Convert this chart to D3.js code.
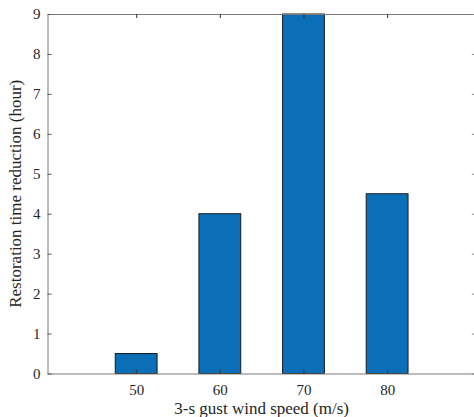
<!DOCTYPE html>
<html>
<head>
<meta charset="utf-8">
<script src="https://cdn.jsdelivr.net/npm/d3@7"></script>
<style>
  body { margin: 0; background: #fff; }
  svg { display: block; }
</style>
</head>
<body>
<svg id="chart" width="474" height="417"></svg>
<script>
const speeds = [50, 60, 70, 80];
const reductions = [0.5, 4, 9, 4.5];
const yTicks = [0, 1, 2, 3, 4, 5, 6, 7, 8, 9];

const svg = d3.select("#chart");
const plot = { left: 47.5, right: 475.8, top: 14, bottom: 373.5 };
const serif = "'Liberation Serif', 'Times New Roman', Times, serif";

const x = d3.scaleLinear().domain([39.4, 90.6]).range([plot.left, plot.right]);
const y = d3.scaleLinear().domain([0, 9]).range([plot.bottom, plot.top]);
const barW = x(55) - x(50);

// bars
svg.append("g").selectAll("rect").data(speeds).enter().append("rect")
  .attr("x", d => x(d) - barW / 2)
  .attr("y", (d, i) => y(reductions[i]))
  .attr("width", barW)
  .attr("height", (d, i) => y(0) - y(reductions[i]))
  .attr("fill", "#0b6fb8")
  .attr("stroke", "#1a1a1a")
  .attr("stroke-width", 1);

const axisColor = "#7a7a7a";

// bottom axis
const gx = svg.append("g").attr("transform", `translate(0,${plot.bottom})`)
  .call(d3.axisBottom(x).tickValues(speeds).tickSizeInner(-4).tickSizeOuter(0).tickPadding(11));
gx.select(".domain").attr("stroke", axisColor);
gx.selectAll(".tick line").attr("stroke", "#333");
gx.selectAll("text").style("font-family", serif).style("font-size", "15px").attr("fill", "#262626");

// top axis (ticks only)
const gt = svg.append("g").attr("transform", `translate(0,${plot.top})`)
  .call(d3.axisTop(x).tickValues(speeds).tickSizeInner(-4).tickSizeOuter(0).tickFormat(""));
gt.select(".domain").attr("stroke", axisColor);
gt.selectAll(".tick line").attr("stroke", "#333");

// left axis
const gy = svg.append("g").attr("transform", `translate(${plot.left},0)`)
  .call(d3.axisLeft(y).tickValues(yTicks).tickSizeInner(-4).tickSizeOuter(0).tickPadding(7));
gy.select(".domain").attr("stroke", axisColor);
gy.selectAll(".tick line").attr("stroke", "#555");
gy.selectAll("text").style("font-family", serif).style("font-size", "15px").attr("fill", "#262626");

// right axis (ticks only)
const gr = svg.append("g").attr("transform", `translate(${plot.right},0)`)
  .call(d3.axisRight(y).tickValues(yTicks).tickSizeInner(-4).tickSizeOuter(0).tickFormat(""));
gr.select(".domain").attr("stroke", axisColor);
gr.selectAll(".tick line").attr("stroke", "#888");

// labels
svg.append("text").attr("x", (plot.left + plot.right) / 2).attr("y", 414)
  .attr("text-anchor", "middle").style("font-family", serif).style("font-size", "17px").attr("fill", "#262626")
  .text("3-s gust wind speed (m/s)");
svg.append("text").attr("transform", `translate(21,${(plot.top + plot.bottom) / 2}) rotate(-90)`)
  .attr("text-anchor", "middle").style("font-family", serif).style("font-size", "17px").attr("fill", "#262626")
  .text("Restoration time reduction (hour)");
</script>
</body>
</html>
